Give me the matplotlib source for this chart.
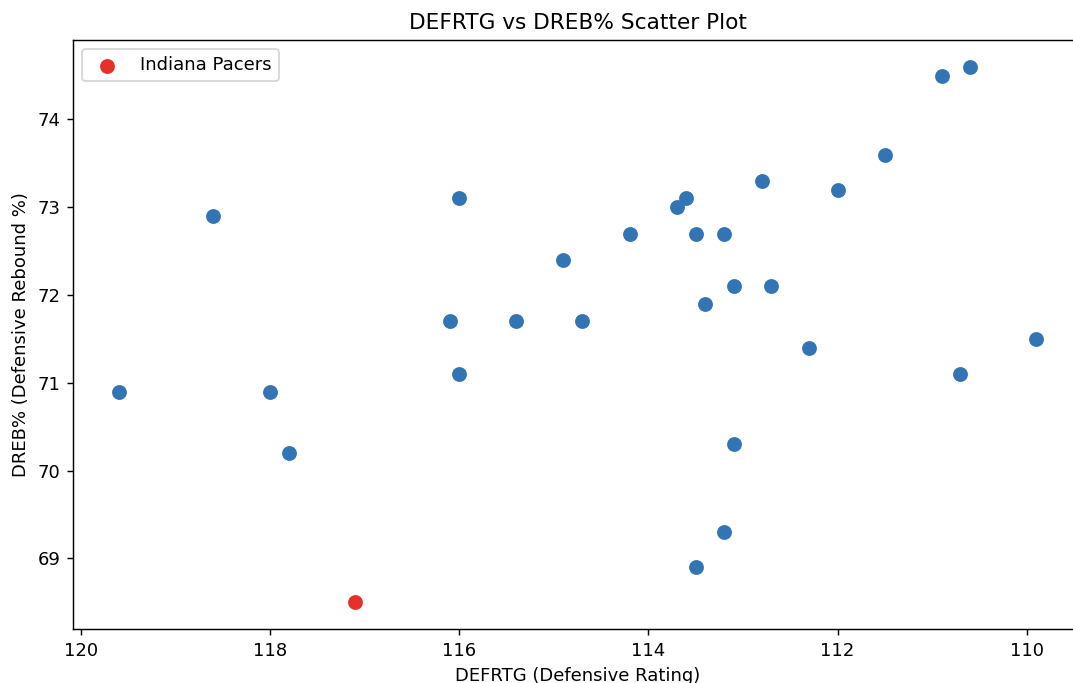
import matplotlib
matplotlib.use("Agg")
import matplotlib.pyplot as plt

# Defensive rating / defensive rebound % per team
teams_defrtg = [119.6, 118.6, 118.0, 117.8, 116.1, 116.0, 116.0, 115.4, 114.9, 114.7,
                114.2, 113.7, 113.6, 113.5, 113.4, 113.5, 113.2, 113.1, 113.1, 113.2,
                112.8, 112.7, 112.3, 112.0, 111.5, 110.9, 110.7, 110.6, 109.9]
teams_dreb = [70.9, 72.9, 70.9, 70.2, 71.7, 73.1, 71.1, 71.7, 72.4, 71.7,
              72.7, 73.0, 73.1, 72.7, 71.9, 68.9, 72.7, 72.1, 70.3, 69.3,
              73.3, 72.1, 71.4, 73.2, 73.6, 74.5, 71.1, 74.6, 71.5]

pacers_defrtg = [117.1]
pacers_dreb = [68.5]

fig = plt.figure(figsize=(1073 / 130, 683 / 130), dpi=130)
ax = fig.add_axes([0.068, 0.0791, 0.9404, 0.8623])

# all teams in blue, Pacers highlighted in red
ax.scatter(teams_defrtg, teams_dreb, s=52, color='#3274b4')
ax.scatter(pacers_defrtg, pacers_dreb, s=52, color='#e8302a', label='Indiana Pacers')

ax.invert_xaxis()
ax.set_title("DEFRTG vs DREB% Scatter Plot")
ax.set_xlabel("DEFRTG (Defensive Rating)")
ax.set_ylabel("DREB% (Defensive Rebound %)")
ax.legend(loc='upper left')

fig.savefig("out.png", dpi=130)
